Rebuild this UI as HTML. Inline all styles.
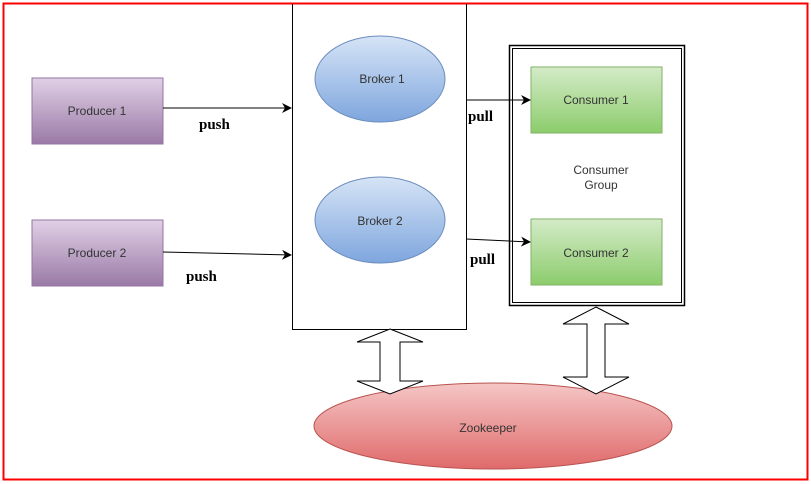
<!DOCTYPE html>
<html><head><style>
body{margin:0;background:#fff;}
svg{display:block;font-family:"Liberation Sans",sans-serif;}
</style></head><body>
<svg width="811" height="484" viewBox="0 0 811 484">
<defs>
<linearGradient id="pg" x1="0" y1="0" x2="0" y2="1"><stop offset="0" stop-color="#e0d0e6"/><stop offset="1" stop-color="#9a7aa6"/></linearGradient>
<linearGradient id="bg" x1="0" y1="0" x2="0" y2="1"><stop offset="0" stop-color="#d6e4f6"/><stop offset="1" stop-color="#7ea6de"/></linearGradient>
<linearGradient id="cg" x1="0" y1="0" x2="0" y2="1"><stop offset="0" stop-color="#d4ebc8"/><stop offset="1" stop-color="#8ccc6c"/></linearGradient>
<linearGradient id="zg" x1="0" y1="0" x2="0" y2="1"><stop offset="0" stop-color="#f5c6c6"/><stop offset="1" stop-color="#e06a6a"/></linearGradient>
<marker id="a" markerWidth="10" markerHeight="10" refX="9" refY="5" orient="auto" markerUnits="userSpaceOnUse"><path d="M0,0 L10,5 L0,10 L3,5z" fill="#000"/></marker>
</defs>
<rect x="3.5" y="3.5" width="804" height="476" fill="none" stroke="#f00" stroke-width="2"/>
<rect x="32" y="78" width="131" height="66" fill="url(#pg)" stroke="#9673a6"/>
<rect x="32" y="220" width="131" height="66" fill="url(#pg)" stroke="#9673a6"/>
<text x="97" y="115" font-size="12" text-anchor="middle" fill="#333">Producer 1</text>
<text x="97" y="257" font-size="12" text-anchor="middle" fill="#333">Producer 2</text>
<path d="M292.5 4 V329.5 H466.5 V4" fill="none" stroke="#000"/>
<ellipse cx="380" cy="79" rx="65" ry="43" fill="url(#bg)" stroke="#6c8ebf"/>
<ellipse cx="380" cy="220" rx="65" ry="43" fill="url(#bg)" stroke="#6c8ebf"/>
<text x="382" y="83" font-size="12" text-anchor="middle" fill="#333">Broker 1</text>
<text x="380" y="225" font-size="12" text-anchor="middle" fill="#333">Broker 2</text>
<rect x="509.5" y="45.5" width="175" height="260" fill="none" stroke="#000" stroke-width="1.5"/>
<rect x="512.5" y="48.5" width="169" height="254" fill="none" stroke="#000"/>
<rect x="531" y="67" width="131" height="66" fill="url(#cg)" stroke="#82b366"/>
<rect x="531" y="219" width="131" height="66" fill="url(#cg)" stroke="#82b366"/>
<text x="596" y="104" font-size="12" text-anchor="middle" fill="#333">Consumer 1</text>
<text x="596" y="257" font-size="12" text-anchor="middle" fill="#333">Consumer 2</text>
<text x="601" y="174" font-size="12" text-anchor="middle" fill="#333">Consumer</text>
<text x="601" y="189" font-size="12" text-anchor="middle" fill="#333">Group</text>
<line x1="163" y1="108" x2="291" y2="108" stroke="#000" marker-end="url(#a)"/>
<line x1="163" y1="252" x2="291" y2="255" stroke="#000" marker-end="url(#a)"/>
<line x1="466" y1="100" x2="530" y2="100" stroke="#000" marker-end="url(#a)"/>
<line x1="466" y1="239" x2="530" y2="242" stroke="#000" marker-end="url(#a)"/>
<g font-family="Liberation Serif,serif" font-weight="bold" font-size="15" fill="#000">
<text x="199" y="129">push</text><text x="186" y="281">push</text>
<text x="468" y="121">pull</text><text x="470" y="264">pull</text></g>
<ellipse cx="493" cy="426" rx="179" ry="43" fill="url(#zg)" stroke="#b85450"/>
<text x="488" y="432" font-size="12" text-anchor="middle" fill="#333">Zookeeper</text>
<path d="M390,329 L423,342 L400,342 L400,381 L423,381 L390,394 L357,381 L380,381 L380,342 L357,342Z" fill="#fff" stroke="#000"/>
<path d="M596,307 L629,324 L605,324 L605,377 L629,377 L596,394 L563,377 L587,377 L587,324 L563,324Z" fill="#fff" stroke="#000"/>
</svg>
</body></html>
